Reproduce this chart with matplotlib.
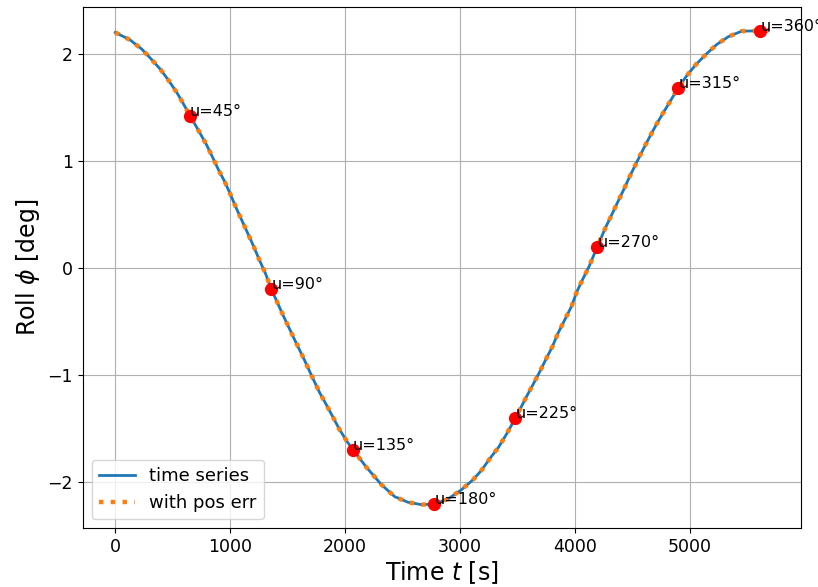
import matplotlib
matplotlib.use("Agg")
import matplotlib.pyplot as plt

# roll angle
time_s = [0, 128, 232, 314, 395, 470, 540, 604, 650, 726, 790, 843, 895, 953,
          1005, 1052, 1104, 1157, 1209, 1256, 1308, 1356, 1458, 1561, 1646,
          1719, 1777, 1835, 1893, 1951, 2015, 2068, 2184, 2314, 2430, 2546,
          2662, 2775, 2895, 3011, 3112, 3185, 3258, 3336, 3403, 3481, 3577,
          3635, 3693, 3751, 3803, 3852, 3925, 3969, 4013, 4065, 4123, 4193,
          4269, 4321, 4376, 4428, 4478, 4536, 4594, 4652, 4710, 4774, 4835,
          4899, 4970, 5051, 5139, 5232, 5333, 5449, 5610, 5680]
roll_deg = [2.198, 2.129, 2.041, 1.948, 1.851, 1.741, 1.629, 1.510, 1.422,
            1.279, 1.157, 1.041, 0.922, 0.803, 0.678, 0.559, 0.437, 0.312,
            0.188, 0.068, -0.056, -0.195, -0.438, -0.673, -0.861, -1.032,
            -1.163, -1.276, -1.392, -1.510, -1.620, -1.698, -1.861, -2.023,
            -2.136, -2.189, -2.211, -2.208, -2.158, -2.073, -1.979, -1.892,
            -1.782, -1.673, -1.554, -1.404, -1.204, -1.088, -0.970, -0.844,
            -0.735, -0.610, -0.454, -0.360, -0.229, -0.110, 0.015, 0.197,
            0.385, 0.500, 0.625, 0.741, 0.859, 0.985, 1.110, 1.229, 1.344,
            1.460, 1.569, 1.682, 1.792, 1.898, 1.994, 2.085, 2.158, 2.210,
            2.214, 2.214]

# argument of latitude markers
u_labels = ["u=45°", "u=90°", "u=135°", "u=180°", "u=225°", "u=270°", "u=315°", "u=360°"]
u_time = [650, 1356, 2068, 2775, 3481, 4193, 4899, 5610]
u_roll = [1.422, -0.195, -1.698, -2.208, -1.404, 0.197, 1.682, 2.214]

fig, ax = plt.subplots(figsize=(8.18, 5.87), dpi=100)
fig.subplots_adjust(left=0.101, right=0.979, top=0.988, bottom=0.100)

ax.plot(time_s, roll_deg, color="tab:blue", lw=2, label="time series")
ax.plot(time_s, roll_deg, color="tab:orange", lw=3.2, ls=":", label="with pos err")
ax.plot(u_time, u_roll, "o", color="red", ms=8.5)
for t, r, lab in zip(u_time, u_roll, u_labels):
    ax.text(t, r, lab, fontsize=11.5)

ax.set_xlabel("Time $t$ [s]", fontsize=17, labelpad=2)
ax.set_ylabel("Roll $\\phi$ [deg]", fontsize=17)
ax.tick_params(labelsize=12.5)
ax.grid(True)
ax.legend(loc="lower left", fontsize=13)

fig.savefig("out.png", dpi=100)
